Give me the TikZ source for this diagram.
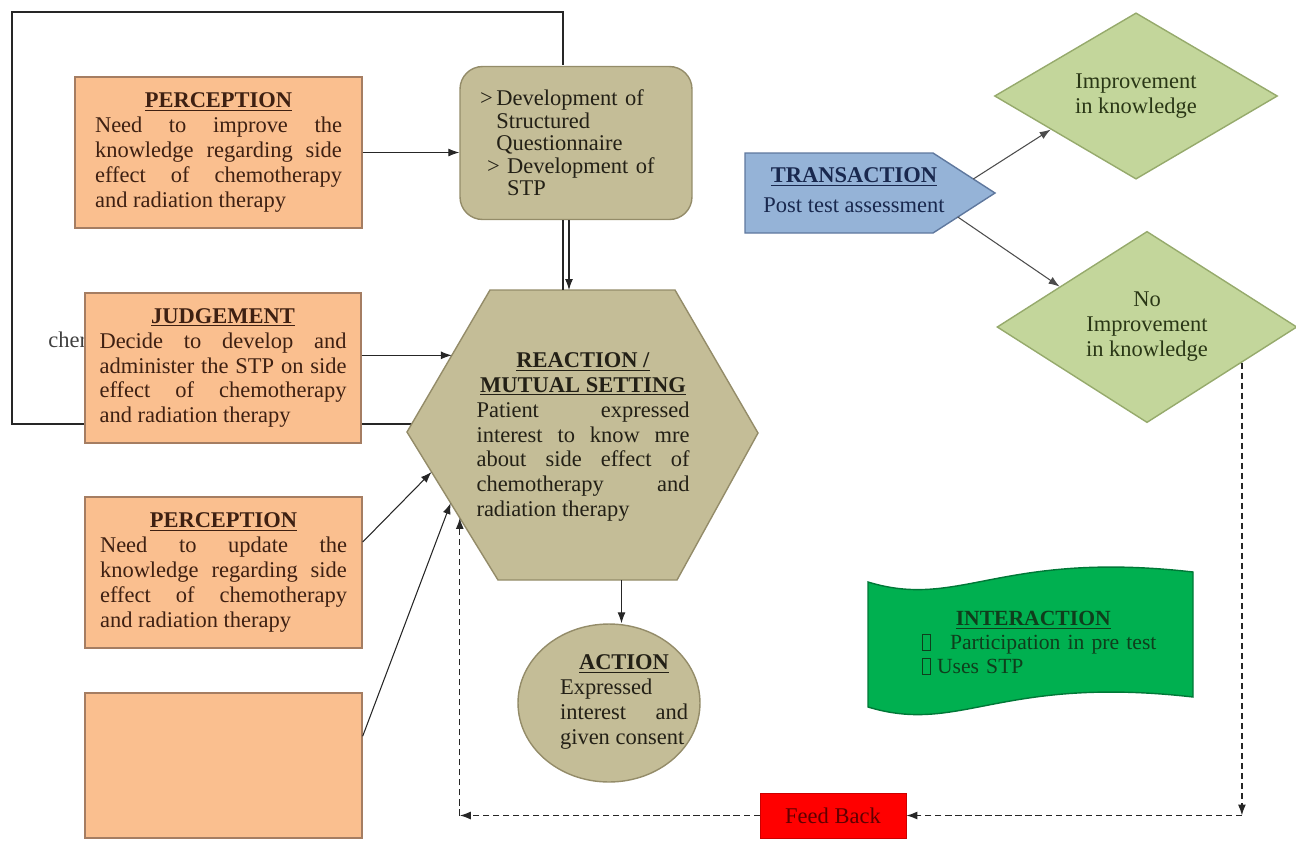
\documentclass[tikz,border=0pt]{standalone}
\usepackage{fontspec}
\setmainfont{Liberation Serif}
\usetikzlibrary{calc,arrows.meta,shapes.geometric}

\definecolor{peach}{RGB}{250,191,143}
\definecolor{peachline}{RGB}{165,125,98}
\definecolor{khaki}{RGB}{196,189,151}
\definecolor{khakiline}{RGB}{148,140,105}
\definecolor{skyblue}{RGB}{149,179,215}
\definecolor{skyline}{RGB}{95,120,158}
\definecolor{sage}{RGB}{195,214,155}
\definecolor{sageline}{RGB}{150,170,108}
\definecolor{leaf}{RGB}{0,176,80}
\definecolor{leafline}{RGB}{0,120,55}
\definecolor{brownink}{RGB}{62,32,18}
\definecolor{oliveink}{RGB}{35,32,22}
\definecolor{navyink}{RGB}{25,40,78}
\definecolor{mossink}{RGB}{42,55,22}
\definecolor{pineink}{RGB}{15,62,28}
\definecolor{fbink}{RGB}{95,0,0}

\newcommand{\bodyfont}{\fontsize{12.8}{14.2}\selectfont\parindent=0pt}
\newcommand{\listfont}{\fontsize{12.3}{13.6}\selectfont\parindent=0pt}
\newcommand{\headline}[1]{\underline{\textbf{#1}}}
\newcommand{\tofu}{{\setlength{\fboxsep}{0pt}\setlength{\fboxrule}{0.5pt}\fbox{\rule{0pt}{1.5ex}\hspace{0.35em}}}}

\tikzset{
  ink/.style={font=\bodyfont},
  peachbox/.style={ink, draw=peachline, fill=peach, line width=0.8pt, text=brownink,
    text width=4.94cm, align=justify, inner sep=0pt, minimum width=5.54cm, minimum height=3.02cm},
  devbox/.style={font=\fontsize{12.8}{12.8}\selectfont, draw=khakiline, fill=khaki, line width=0.8pt,
    rounded corners=0.45cm, text=oliveink, text width=3.84cm, align=left,
    inner xsep=0.4cm, inner ysep=0pt, minimum width=4.64cm, minimum height=3.06cm},
  khakishape/.style={draw=khakiline, fill=khaki, line width=0.8pt},
  inktext/.style={ink, text=oliveink, inner sep=0pt},
  trshape/.style={draw=skyline, fill=skyblue, line width=0.8pt},
  diam/.style={ink, shape=diamond, draw=sageline, fill=sage, line width=0.8pt, text=mossink,
    align=center, inner sep=0pt},
  banner/.style={draw=leafline, fill=leaf, line width=0.8pt},
  fbbox/.style={ink, draw=red!80!black, fill=red, text=fbink, minimum width=2.92cm, minimum height=0.9cm},
  arr/.style={-{Latex[length=2.2mm,width=1.6mm]}, line width=0.6pt, draw=black!85},
  dasharr/.style={arr, dash pattern=on 3.5pt off 2.2pt, line width=0.8pt},
  loopline/.style={line width=1.5pt, draw=black!85}
}

\begin{document}
\begin{tikzpicture}[x=0.02cm,y=-0.02cm]
			%%%%% START %%%%%
			\useasboundingbox (0,0) rectangle (1296,840);
			
			% hexagon corners
			\coordinate (hexL) at (407,432);
			\coordinate (hexTL) at (490,290);
			\coordinate (hexTR) at (675,290);
			\coordinate (hexR) at (758,433);
			\coordinate (hexBR) at (677,580);
			\coordinate (hexBL) at (498,580);
			\coordinate (hexLoop) at ($(hexL)!0.056!(hexTL)$);
			\coordinate (hexJ) at ($(hexL)!0.54!(hexTL)$);
			\coordinate (hexP) at ($(hexL)!0.27!(hexBL)$);
			\coordinate (hexE) at ($(hexL)!0.48!(hexBL)$);
			\coordinate (hexFb) at ($(hexL)!0.58!(hexBL)$);
			\coordinate (hexOut) at ($(hexBL)!0.69!(hexBR)$);
			\coordinate (loopTop) at (563,12);
			\coordinate (dropR) at (569,12);
			
			% thick loop, half hidden by the boxes
			\draw[loopline] (hexLoop) -| (12,12) -- (loopTop) -- (563,65);
			\node[ink, text=black!75, anchor=base west, inner sep=0pt] (cut) at (48,347) {cher};
			
			\node[peachbox, minimum width=5.74cm] (per1) at (218.5,152.5) {{\centering\headline{PERCEPTION}\par}Need to improve the\linebreak knowledge regarding side\linebreak effect of chemotherapy\linebreak and radiation therapy};
			\node[peachbox, minimum width=5.52cm, minimum height=3cm] (judge) at (223,368) {{\centering\headline{JUDGEMENT}\par}Decide to develop and\linebreak administer the STP on side\linebreak effect of chemotherapy\linebreak and radiation therapy};
			\node[peachbox] (per2) at (223.5,572.5) {{\centering\headline{PERCEPTION}\par}Need to update the\linebreak knowledge regarding side\linebreak effect of chemotherapy\linebreak and radiation therapy};
			\node[peachbox, minimum height=2.9cm] (blank) at (223.5,765.5) {};
			
			\node[devbox] (dev) at (576,143) {>\,Development of\\\phantom{>\,}Structured\\\phantom{>\,}Questionnaire\\\hspace*{0.14cm}> Development of\\\hspace*{0.14cm}\phantom{> }STP};
			
			\draw[khakishape] (hexL) -- (hexTL) -- (hexTR) -- (hexR) -- (hexBR) -- (hexBL) -- cycle;
			\node[inktext, text width=4.26cm, align=justify] (react) at (583,437) {{\centering\headline{REACTION /}\par\headline{MUTUAL SETTING}\par}Patient expressed\linebreak interest to know mre\linebreak about side effect of\linebreak chemotherapy and\linebreak radiation therapy};
			
			\node[khakishape, ellipse, minimum width=3.64cm, minimum height=3.16cm, inner sep=0pt] (act) at (609,703) {};
			\node[inktext, text width=2.56cm, align=justify] (acttext) at (624,702) {{\centering\headline{ACTION}\par}Expressed\linebreak interest and\linebreak given consent};
			
			% transaction arrow shape
			\coordinate (trTL) at (745,153);
			\coordinate (trTR) at (933,153);
			\coordinate (trTip) at (995,193);
			\coordinate (trBR) at (933,233);
			\coordinate (trBL) at (745,233);
			\draw[trshape] (trTL) -- (trTR) -- (trTip) -- (trBR) -- (trBL) -- cycle;
			\node[ink, text=navyink, align=center, inner sep=0pt] (trans) at (854,190) {\headline{TRANSACTION}\\[3pt]Post test assessment};
			
			\node[diam, minimum width=5.66cm, minimum height=2.76cm] (imp) at (1136,96) {Improvement\\in knowledge};
			\node[diam, minimum width=6cm, minimum height=3.3cm] (noimp) at (1147,327) {No\\Improvement\\in knowledge};
			
			\draw[banner] (868,582) .. controls (960,610) and (1000,550) .. (1193,572) -- (1193,697) .. controls (1000,675) and (960,735) .. (868,707) -- cycle;
			\node[font=\listfont, text=pineink, text width=4.9cm, align=left, inner sep=0pt] (inter) at (1044.5,643) {{\centering\headline{INTERACTION}\hspace*{0.45cm}\par}\makebox[0.56cm][l]{\tofu}Participation in pre test\\\makebox[0.3cm][l]{\tofu}Uses STP};
			
			\node[fbbox] (fb) at (833,815.5) {Feed Back};
			
			% solid arrows
			\draw[arr] (per1.east) -- (dev.west |- per1.east);
			\draw[line width=0.6pt, draw=black!85] (loopTop |- dev.south) -- (loopTop |- hexTL);
			\draw[arr] (dropR |- dev.south) -- (dropR |- hexTL);
			\draw[arr] (judge.east |- hexJ) -- (hexJ);
			\draw[arr] ($(per2.north east)!0.3!(per2.south east)$) -- (hexP);
			\draw[arr] ($(blank.north east)!0.3!(blank.south east)$) -- (hexE);
			\draw[arr] (hexOut) -- (hexOut |- act.north);
			
			\coordinate (trUp) at ($(trTR)!0.65!(trTip)$);
			\coordinate (trDn) at ($(trBR)!0.4!(trTip)$);
			\coordinate (impIn) at ($(imp.west)!0.4!(imp.south)$);
			\coordinate (noIn) at ($(noimp.west)!0.42!(noimp.north)$);
			\draw[arr, draw=black!70] (trUp) -- (impIn);
			\draw[arr, draw=black!70] (trDn) -- (noIn);
			
			% dashed feed back
			\coordinate (noOut) at ($(noimp.east)!0.37!(noimp.south)$);
			\draw[dasharr] (noOut) -- (noOut |- fb.east);
			\draw[dasharr] (noOut |- fb.east) -- (fb.east);
			\draw[dasharr] (fb.west) -- (hexFb |- fb.west);
			\draw[dasharr] (hexFb |- fb.west) -- (hexFb);
			
			%%%%% END %%%%%
\end{tikzpicture}
\end{document}
